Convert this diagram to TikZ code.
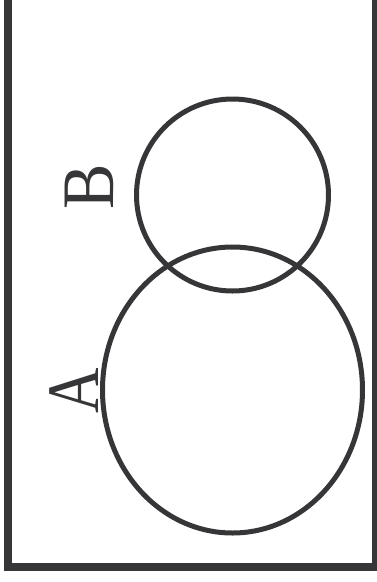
\documentclass[tikz,border=0pt]{standalone}
\usepackage{tikz}
\usepackage{fontspec}
\setmainfont{Liberation Serif}
\definecolor{inkCol}{RGB}{54,53,56}
\tikzset{
  frame/.style={draw=inkCol,line width=8pt},
  ring/.style={draw=inkCol,line width=5pt},
  setlab/.style={inner sep=0pt,text=inkCol,rotate=90,
                 font=\fontsize{74}{74}\selectfont},
}

\begin{document}
\begin{tikzpicture}[x=1pt,y=-1pt]
  \useasboundingbox (0,0) rectangle (377,582);
  \draw[frame] (8,-20) rectangle (376,566.5);
  % the two sets
  \coordinate (cB) at (232.5,195);
  \coordinate (cA) at (232.5,390);
  \draw[ring] (cB) circle [radius=96];
  \draw[ring] (cA) ellipse [x radius=130,y radius=143];
  \node[setlab,xscale=0.85] (labA) at (74,390.5) {A};
  \node[setlab,xscale=0.92] (labB) at (89,186.5) {B};
\end{tikzpicture}
\end{document}
